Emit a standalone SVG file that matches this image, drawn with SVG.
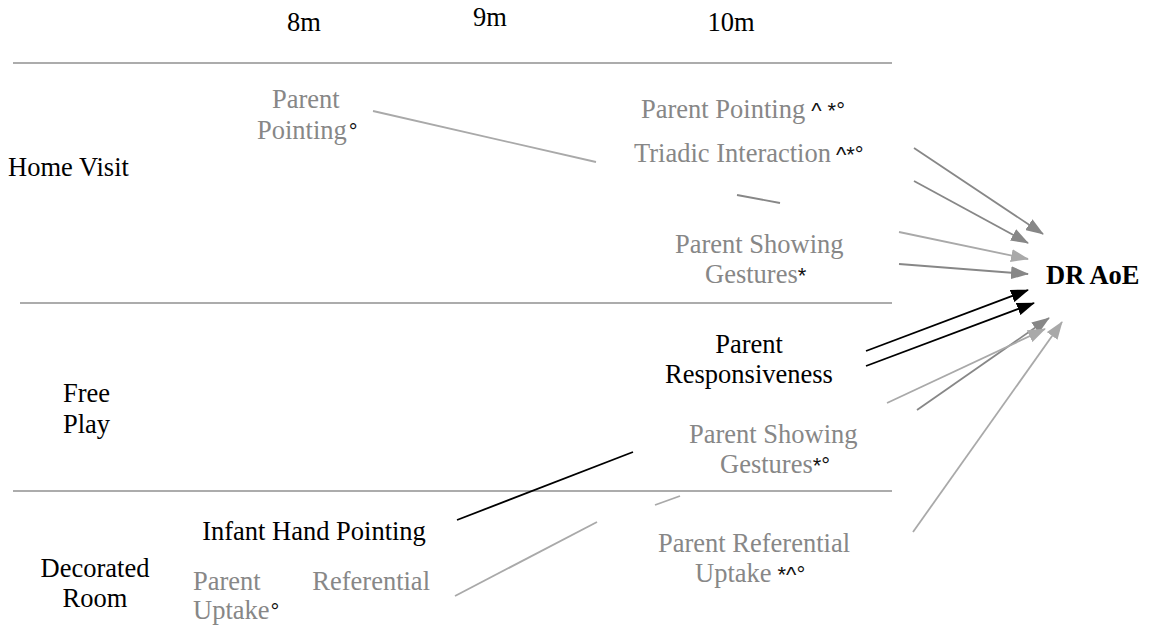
<svg xmlns="http://www.w3.org/2000/svg" width="1153" height="631" viewBox="0 0 1153 631" font-family="'Liberation Serif', 'Times New Roman', serif">
  <defs>
    <style>
      text { font-family: 'Liberation Serif', 'Times New Roman', serif; font-size: 26.5px; }
      .blk { fill: #000; }
      .gry { fill: #878787; }
      tspan.mk { font-family: 'Liberation Sans', Arial, sans-serif; font-size: 22px; fill: #111; }
      .b { font-weight: bold; }
      .rule { stroke: #acacac; stroke-width: 2; fill: none; }
      .ln { fill: none; stroke-width: 1.8; }
      .dark { stroke: #878787; }
      .light { stroke: #a9a9a9; }
      .black { stroke: #000; }
    </style>
    <marker id="ah-dark" viewBox="0 0 18 13" refX="17" refY="6.5" markerWidth="18" markerHeight="13" markerUnits="userSpaceOnUse" orient="auto">
      <path d="M0,0 L18,6.5 L0,13 z" fill="#878787"/>
    </marker>
    <marker id="ah-light" viewBox="0 0 18 13" refX="17" refY="6.5" markerWidth="18" markerHeight="13" markerUnits="userSpaceOnUse" orient="auto">
      <path d="M0,0 L18,6.5 L0,13 z" fill="#a9a9a9"/>
    </marker>
    <marker id="ah-black" viewBox="0 0 18 13" refX="17" refY="6.5" markerWidth="18" markerHeight="13" markerUnits="userSpaceOnUse" orient="auto">
      <path d="M0,0 L18,6.5 L0,13 z" fill="#000"/>
    </marker>
  </defs>

  <rect width="1153" height="631" fill="#fff"/>

  <!-- age columns -->
  <g id="headers" class="blk" text-anchor="middle">
    <text x="304" y="31">8m</text>
    <text x="490" y="26">9m</text>
    <text x="731" y="31">10m</text>
  </g>

  <!-- section rules -->
  <g id="rules">
    <line class="rule" x1="13" y1="63" x2="892" y2="63"/>
    <line class="rule" x1="20" y1="303" x2="892" y2="303"/>
    <line class="rule" x1="13" y1="491" x2="892" y2="491"/>
  </g>

  <!-- setting labels -->
  <g id="setting-home" class="blk"><text x="8" y="176">Home Visit</text></g>
  <g id="setting-free" class="blk">
    <text x="63" y="402">Free</text>
    <text x="63" y="433">Play</text>
  </g>
  <g id="setting-room" class="blk" text-anchor="middle">
    <text x="95" y="577">Decorated</text>
    <text x="95" y="607">Room</text>
  </g>

  <!-- connectors -->
  <g id="connectors">
    <line class="ln light" x1="373" y1="111" x2="596" y2="162"/>
    <line class="ln dark" x1="737" y1="195" x2="780" y2="203"/>
    <line class="ln black" x1="457" y1="520" x2="633" y2="452"/>
    <line class="ln light" x1="455" y1="596" x2="597" y2="522"/>
    <line class="ln light" x1="655" y1="505" x2="680" y2="496"/>

    <line class="ln dark" x1="914" y1="148" x2="1043" y2="234" marker-end="url(#ah-dark)"/>
    <line class="ln dark" x1="914" y1="181" x2="1028" y2="243" marker-end="url(#ah-dark)"/>
    <line class="ln light" x1="899" y1="232" x2="1028" y2="259" marker-end="url(#ah-light)"/>
    <line class="ln dark" x1="899" y1="264" x2="1028" y2="274" marker-end="url(#ah-dark)"/>
    <line class="ln black" x1="866" y1="351" x2="1028" y2="290" marker-end="url(#ah-black)"/>
    <line class="ln black" x1="866" y1="366" x2="1034" y2="303" marker-end="url(#ah-black)"/>
    <line class="ln dark" x1="917" y1="410" x2="1049" y2="318" marker-end="url(#ah-dark)"/>
    <line class="ln light" x1="887" y1="403" x2="1045" y2="329" marker-end="url(#ah-light)"/>
    <line class="ln light" x1="913" y1="532" x2="1062" y2="322" marker-end="url(#ah-light)"/>
  </g>

  <!-- nodes -->
  <g id="hv-parent-pointing-8m" class="gry">
    <text x="272" y="108">Parent</text>
    <text x="257" y="139">Pointing<tspan class="mk" dx="2">°</tspan></text>
  </g>

  <g id="hv-parent-pointing-10m" class="gry">
    <text x="641" y="118">Parent Pointing<tspan class="mk" dx="6">^ *°</tspan></text>
  </g>

  <g id="hv-triadic-interaction" class="gry">
    <text x="634" y="162">Triadic Interaction<tspan class="mk" dx="5">^*°</tspan></text>
  </g>

  <g id="hv-parent-showing" class="gry">
    <text x="675" y="253">Parent Showing</text>
    <text x="705" y="283">Gestures<tspan class="mk">*</tspan></text>
  </g>

  <g id="fp-parent-responsiveness" class="blk" text-anchor="middle">
    <text x="749" y="353">Parent</text>
    <text x="749" y="383">Responsiveness</text>
  </g>

  <g id="fp-parent-showing" class="gry">
    <text x="689" y="443">Parent Showing</text>
    <text x="720" y="473">Gestures<tspan class="mk">*°</tspan></text>
  </g>

  <g id="dr-infant-hand-pointing" class="blk" text-anchor="middle">
    <text x="314" y="540">Infant Hand Pointing</text>
  </g>

  <g id="dr-parent-referential-8m" class="gry">
    <text x="193" y="590">Parent</text>
    <text x="430" y="590" text-anchor="end">Referential</text>
    <text x="193" y="619">Uptake<tspan class="mk" dx="1">°</tspan></text>
  </g>

  <g id="dr-parent-referential-10m" class="gry">
    <text x="658" y="552">Parent Referential</text>
    <text x="695" y="582">Uptake<tspan class="mk" dx="6">*^°</tspan></text>
  </g>

  <g id="dr-aoe" class="blk b">
    <text x="1046" y="284">DR AoE</text>
  </g>
</svg>
